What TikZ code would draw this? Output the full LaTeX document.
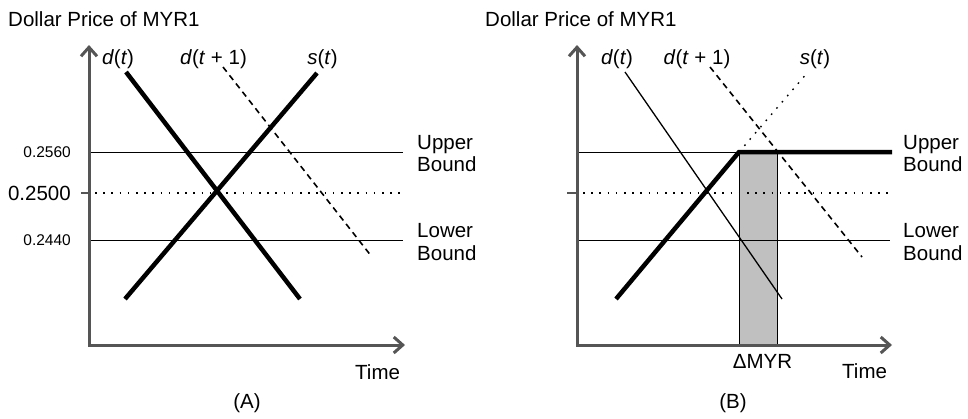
\documentclass[tikz,border=0pt]{standalone}
\usepackage{fontspec}
\setmainfont{Liberation Sans}
\usetikzlibrary{arrows.meta}
\definecolor{axisgray}{HTML}{555555}
\definecolor{boxgray}{HTML}{C0C0C0}
\begin{document}
\begin{tikzpicture}[x=1pt,y=-1pt,
  axis/.style={draw=axisgray, line width=3pt, line join=miter,
    {Straight Barb[length=9pt,width=16pt]}-{Straight Barb[length=9pt,width=16pt]}},
  thin/.style={draw=black, line width=1pt},
  thickln/.style={draw=black, line width=4.5pt},
  dashln/.style={draw=black, line width=1.6pt, dash pattern=on 6pt off 4.5pt},
  dotln/.style={draw=black, line width=1.6pt, dash pattern=on 1.6pt off 6.6pt},
  tickln/.style={draw=axisgray, line width=1.2pt},
  lab/.style={font=\fontsize{20.5}{24}\selectfont, inner sep=0pt},
  small/.style={font=\fontsize{15.5}{18}\selectfont, inner sep=0pt},
]
\useasboundingbox (0,0) rectangle (968,418);

%% ---------------- Panel A ----------------
\coordinate (aTop) at (89,45);
\coordinate (aO) at (89,345);
\coordinate (aRight) at (405,345);
\coordinate (aU0) at (89,152);  \coordinate (aU1) at (403,152);
\coordinate (aM0) at (89,193);  \coordinate (aM1) at (403,193);
\coordinate (aL0) at (89,240);  \coordinate (aL1) at (403,240);
\coordinate (aTk) at (81,193);

\draw[thin] (aU0) -- (aU1);
\draw[thin] (aL0) -- (aL1);
\draw[dotln] (aM0) ++(6,0) -- (aM1);
\draw[tickln] (aTk) -- (aM0);

\coordinate (adS) at (126,72);   \coordinate (adE) at (300,299);
\coordinate (asS) at (125,299);  \coordinate (asE) at (317,73);
\coordinate (ad1S) at (223,67);  \coordinate (ad1E) at (372,257);
\draw[thickln] (adS) -- (adE);
\draw[thickln] (asS) -- (asE);
\draw[dashln] (ad1S) -- (ad1E);

\draw[axis] (aTop) -- (aO) -- (aRight);

\node[lab, anchor=base west] (aTitle) at (8,26) {Dollar Price of MYR1};
\node[lab, anchor=base] (aLd) at (118,64) {\textit{d}(\textit{t})};
\node[lab, anchor=base] (aLd1) at (213.5,64) {\textit{d}(\textit{t} + 1)};
\node[lab, anchor=base] (aLs) at (322.5,64) {\textit{s}(\textit{t})};
\node[small, anchor=east] (aV1) at (71,152) {0.2560};
\node[lab, anchor=east] (aV2) at (71,193) {0.2500};
\node[small, anchor=east] (aV3) at (71,240) {0.2440};
\node[lab, anchor=base west] (aUp) at (417,149) {Upper};
\node[lab, anchor=base west] (aUpB) at (417,171) {Bound};
\node[lab, anchor=base west] (aLo) at (417,237) {Lower};
\node[lab, anchor=base west] (aLoB) at (417,260) {Bound};
\node[lab, anchor=base west] (aTime) at (355,379) {Time};
\node[lab, anchor=base] (aCap) at (247,408) {(A)};

%% ---------------- Panel B ----------------
\coordinate (bTop) at (577,45);
\coordinate (bO) at (577,345);
\coordinate (bRight) at (892,345);
\coordinate (bU0) at (577,152);  \coordinate (bU1) at (892,152);
\coordinate (bM0) at (577,193);  \coordinate (bM1) at (892,193);
\coordinate (bL0) at (577,240);  \coordinate (bL1) at (890,240);
\coordinate (bTk) at (567,193);
\coordinate (bK) at (739,152);

\draw[thin, fill=boxgray] (739,152) rectangle (777,345);
\draw[thin] (bU0) -- (bK);
\draw[thin] (bL0) -- (bL1);
\draw[dotln] (bM0) ++(6,0) -- (bM1);
\draw[tickln] (bTk) -- (bM0);

\coordinate (bdS) at (625,72);   \coordinate (bdE) at (782,299);
\coordinate (bsS) at (616,299);
\coordinate (bsE) at (808,72);
\coordinate (bd1S) at (710,67);  \coordinate (bd1E) at (862,257);
\draw[thin, line width=1.3pt] (bdS) -- (bdE);
\draw[dotln, line width=1.4pt] (bK) -- (bsE);
\draw[dashln] (bd1S) -- (bd1E);
\draw[thickln, line join=miter] (bsS) -- (bK) -- (bU1);

\draw[axis] (bTop) -- (bO) -- (bRight);

\node[lab, anchor=base west] (bTitle) at (485,26) {Dollar Price of MYR1};
\node[lab, anchor=base] (bLd) at (617,64) {\textit{d}(\textit{t})};
\node[lab, anchor=base] (bLd1) at (697,64) {\textit{d}(\textit{t} + 1)};
\node[lab, anchor=base] (bLs) at (815,64) {\textit{s}(\textit{t})};
\node[lab, anchor=base west] (bUp) at (903,149) {Upper};
\node[lab, anchor=base west] (bUpB) at (903,171) {Bound};
\node[lab, anchor=base west] (bLo) at (903,237) {Lower};
\node[lab, anchor=base west] (bLoB) at (903,260) {Bound};
\node[lab, anchor=base] (bDelta) at (762.5,368) {ΔMYR};
\node[lab, anchor=base west] (bTime) at (842,378) {Time};
\node[lab, anchor=base] (bCap) at (733,408) {(B)};
\end{tikzpicture}
\end{document}
